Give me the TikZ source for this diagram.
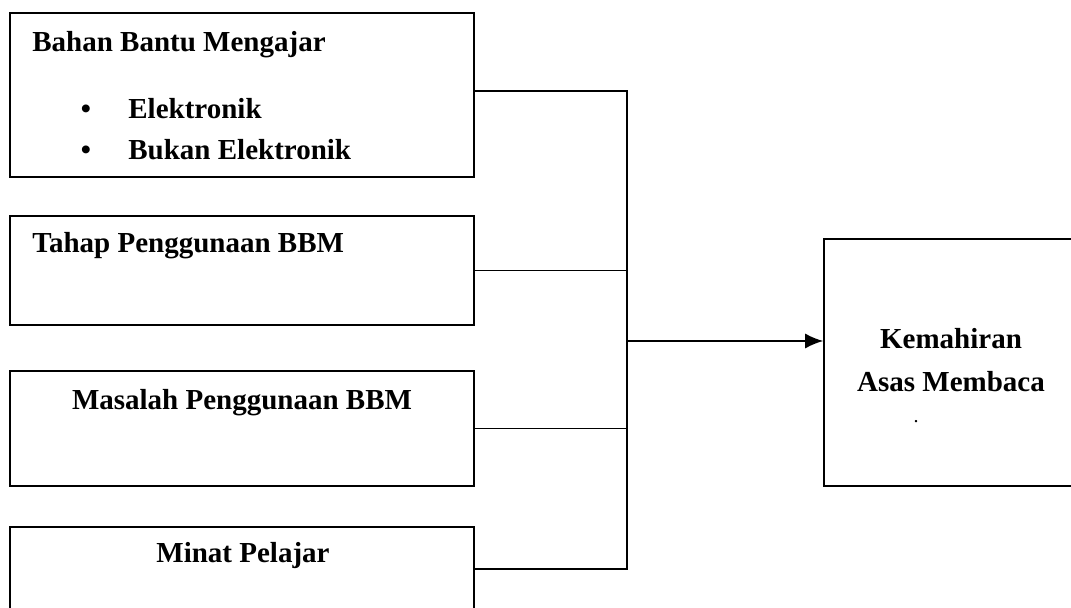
\documentclass[tikz,border=0pt]{standalone}
\usepackage{fontspec}
\setmainfont{Liberation Serif}
\usetikzlibrary{arrows.meta}

\tikzset{
  factorbox/.style={draw, line width=.8pt, inner sep=0pt, minimum width=232pt},
  boxtext/.style={inner sep=0pt, font=\fontsize{14.5}{17}\selectfont\bfseries},
  link/.style={line width=.8pt},
}

\begin{document}
\begin{tikzpicture}
    [
      x=.5pt, y=-.5pt,
    ]
    \clip (0,0) rectangle (1071,608);

    % factor boxes
    \node [factorbox, minimum height=82pt]   (bbm)     at (242,95)    {};
    \node [factorbox, minimum height=54.5pt] (tahap)   at (242,270.5) {};
    \node [factorbox, minimum height=57.5pt] (masalah) at (242,428.5) {};
    \node [factorbox, minimum height=42pt]   (minat)   at (242,569)   {};

    % outcome box
    \node [factorbox, minimum width=128pt, minimum height=123.5pt] (kemahiran) at (952,362.5) {};

    % box texts
    \node [boxtext, anchor=base west] (bbmtitle) at (32,52) {Bahan Bantu Mengajar};
    \foreach \y/\t in {119/Elektronik,160/Bukan Elektronik} {
      \node [boxtext, anchor=base] (dot\y) at (86,\y) {\textbullet};
      \node [boxtext, anchor=base west] (item\y) at (128,\y) {\t};
    }
    \node [boxtext, anchor=base west] (tahaptitle) at (32,253) {Tahap Penggunaan BBM};
    \node [boxtext, anchor=base] (masalahtitle) at (242,410) {Masalah Penggunaan BBM};
    \node [boxtext, anchor=base] (minattitle) at (243,563) {Minat Pelajar};
    \node [boxtext, anchor=base] (goal1) at (951,349) {Kemahiran};
    \node [boxtext, anchor=base] (goal2) at (951,392) {Asas Membaca};
    \node [inner sep=0pt, font=\fontsize{10}{11}\selectfont, anchor=base] (stray) at (916,423) {.};

    % connectors
    \coordinate (hub) at (627,341);
    \draw [link] ([yshift=2pt]bbm.east) -- ([yshift=2pt]bbm.east -| hub)
                 -- (minat.east -| hub) -- (minat.east);
    \foreach \b in {tahap,masalah} {
      \draw [link] (\b.east) -- (\b.east -| hub);
    }
    \draw [link, -{Latex[length=9pt,width=7.5pt]}] (hub) -- (hub -| kemahiran.west);
\end{tikzpicture}
\end{document}
